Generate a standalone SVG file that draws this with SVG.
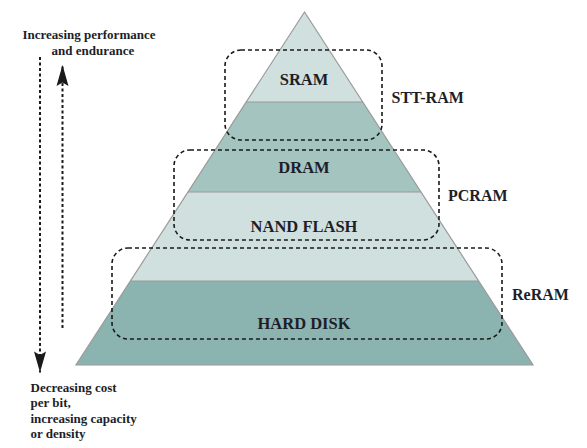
<svg xmlns="http://www.w3.org/2000/svg" width="587" height="448" viewBox="0 0 587 448">
<style>
.t{font-family:"Liberation Serif","Times New Roman",serif;font-weight:bold;fill:#1e1e28}
.lbl{font-size:16.5px;text-anchor:middle}
.side{font-size:16px}
.note{font-size:13px}
.band{stroke:none}
.edge{stroke:#9a9a9a;stroke-width:1.2;fill:none}
.box{fill:none;stroke:#1a1a1a;stroke-width:1.6;stroke-dasharray:4 3}
.arr{stroke:#1a1a1a;stroke-width:2;stroke-dasharray:3 2.5;fill:none}
</style>
<defs>
<marker id="ah" markerUnits="userSpaceOnUse" markerWidth="24" markerHeight="16" viewBox="-22 -8 24 16" refX="0" refY="0" orient="auto">
<path d="M0,0 L-21,-6 L-17.5,0 L-21,6 Z" fill="#1a1a1a"/>
</marker>
</defs>
<rect width="587" height="448" fill="#ffffff"/>
<g id="pyramid">
<polygon id="sram" class="band" fill="#d0e0de" points="304.5,12 362.8,102 246.2,102"/>
<polygon id="dram" class="band" fill="#a4c4c0" points="246.2,102 362.8,102 421,192 188,192"/>
<polygon id="nand" class="band" fill="#d0e0de" points="188,192 421,192 478.6,281 130.4,281"/>
<polygon id="hdd" class="band" fill="#8bb4b0" points="130.4,281 478.6,281 533,365 76,365"/>
<line class="edge" x1="246.2" y1="102" x2="362.8" y2="102"/>
<line class="edge" x1="188" y1="192" x2="421" y2="192"/>
<line class="edge" x1="130.4" y1="281" x2="478.6" y2="281"/>
<polygon class="edge" points="304.5,12 533,365 76,365"/>
</g>
<g id="labels">
<text class="t lbl" x="304" y="85">SRAM</text>
<text class="t lbl" x="304" y="173">DRAM</text>
<text class="t lbl" x="304" y="232">NAND FLASH</text>
<text class="t lbl" x="304" y="329">HARD DISK</text>
</g>
<g id="stt-ram">
<rect class="box" x="225" y="50" width="157" height="90" rx="16"/>
<text class="t side" x="391.5" y="102.5">STT-RAM</text>
</g>
<g id="pcram">
<rect class="box" x="174" y="150" width="265" height="90" rx="16"/>
<text class="t side" x="448" y="201">PCRAM</text>
</g>
<g id="reram">
<rect class="box" x="112" y="248" width="390" height="91" rx="16"/>
<text class="t side" x="512" y="299.5">ReRAM</text>
</g>
<g id="connectors">
<line class="arr" x1="40" y1="57" x2="40" y2="372.5" marker-end="url(#ah)"/>
<line class="arr" x1="62.5" y1="328" x2="62.5" y2="65" marker-end="url(#ah)"/>
</g>
<g id="notes">
<text class="t note" x="22.5" y="38.5">Increasing performance</text>
<text class="t note" x="51.5" y="55">and endurance</text>
<text class="t note" x="30.5" y="391.5">Decreasing cost</text>
<text class="t note" x="30.5" y="407">per bit,</text>
<text class="t note" x="30.5" y="422.5">increasing capacity</text>
<text class="t note" x="30.5" y="438">or density</text>
</g>
</svg>
